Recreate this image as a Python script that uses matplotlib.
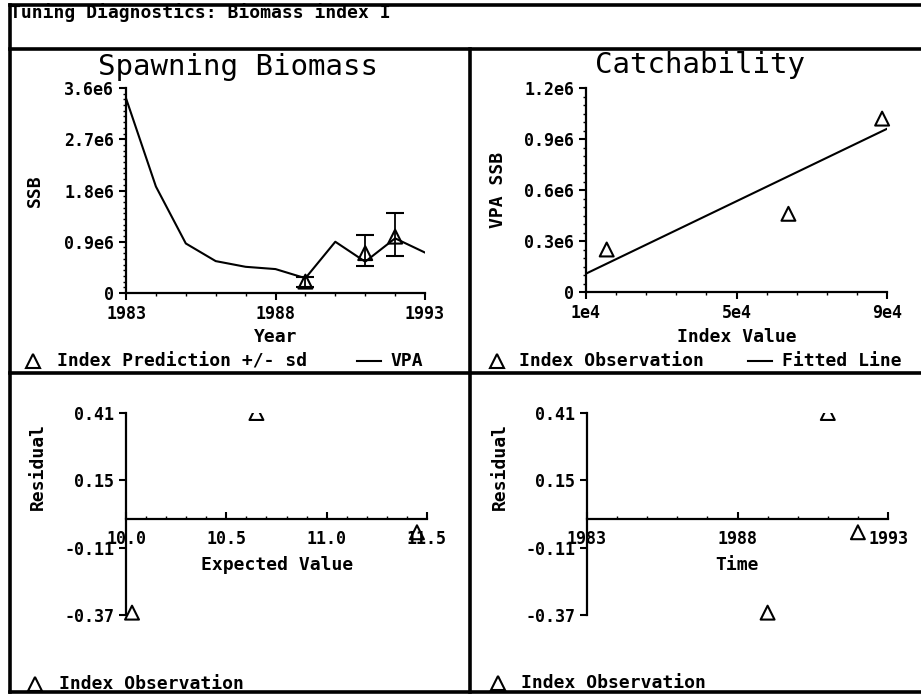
import matplotlib.pyplot as plt
import matplotlib.transforms as mtransforms
from matplotlib.lines import Line2D
from matplotlib.patches import Rectangle
from matplotlib.ticker import AutoMinorLocator

# data
years = [1983, 1984, 1985, 1986, 1987, 1988, 1989, 1990, 1991, 1992, 1993]
ssb_vpa = [3.42e6, 1.87e6, 0.87e6, 0.56e6, 0.46e6, 0.42e6, 0.26e6, 0.90e6, 0.55e6, 0.96e6, 0.71e6]

index_years = [1989, 1991, 1992]
index_pred = [0.20e6, 0.70e6, 0.99e6]
index_lo = [0.10e6, 0.47e6, 0.65e6]
index_hi = [0.28e6, 1.02e6, 1.41e6]

index_obs = [1.55e4, 6.38e4, 8.87e4]
vpa_ssb_obs = [0.25e6, 0.46e6, 1.02e6]
fit_x = [1e4, 9e4]
fit_y = [0.108e6, 0.96e6]

expected = [10.03, 10.65, 11.45]
resid_years = [1989, 1991, 1992]
resid = [-0.36, 0.41, -0.05]

ssb_ticks = [0, 0.9e6, 1.8e6, 2.7e6, 3.6e6]
ssb_labels = ['0', '0.9e6', '1.8e6', '2.7e6', '3.6e6']
q_ticks = [0, 0.3e6, 0.6e6, 0.9e6, 1.2e6]
q_labels = ['0', '0.3e6', '0.6e6', '0.9e6', '1.2e6']
idx_ticks = [1e4, 5e4, 9e4]
idx_labels = ['1e4', '5e4', '9e4']
res_ticks = [-0.37, -0.11, 0.15, 0.41]
res_labels = ['-0.37', '-0.11', '0.15', '0.41']
exp_ticks = [10.0, 10.5, 11.0, 11.5]
exp_labels = ['10.0', '10.5', '11.0', '11.5']
yr_ticks = [1983, 1988, 1993]

plt.rcParams['font.family'] = 'DejaVu Sans Mono'
plt.rcParams['font.weight'] = 'bold'

W, H = 921, 695
fig = plt.figure(figsize=(W / 100, H / 100), dpi=100)
# pixel coordinates, origin top-left
P = mtransforms.Affine2D().scale(1 / W, -1 / H).translate(0, 1) + fig.transFigure


def box(x0, y0, x1, y1):
    return [x0 / W, 1 - y1 / H, (x1 - x0) / W, (y1 - y0) / H]


def style(ax):
    for s in ['top', 'right']:
        ax.spines[s].set_visible(False)
    for s in ['left', 'bottom']:
        ax.spines[s].set_linewidth(1.6)
    ax.tick_params(which='major', length=5, width=1.5, labelsize=12)
    ax.tick_params(which='minor', length=2.5, width=1)
    ax.set_facecolor('none')


def tri(ax, x, y, clip=True):
    sc = ax.scatter(x, y, marker='^', s=100, facecolors='none',
                    edgecolors='black', linewidths=1.5, clip_on=clip, zorder=3)
    if clip:
        # cut triangles that sit on the top edge, as in the original
        clip_rect = Rectangle((-0.1, 0), 1.2, 1.0, transform=ax.transAxes)
        sc.set_clip_path(clip_rect)


def line(x0, y0, x1, y1, lw=2.6):
    fig.add_artist(Line2D([x0, x1], [y0, y1], transform=P, color='black', lw=lw))


def text(x, y, s, **kw):
    kw.setdefault('fontsize', 13)
    kw.setdefault('va', 'center')
    fig.text(x, y, s, transform=P, **kw)


def legend_tri(x, y):
    fig.add_artist(Line2D([x], [y], transform=P, marker='^', ms=10, mfc='none',
                          mec='black', mew=1.5, linestyle='none'))


# frame and panel borders
line(10, 5, 921, 5)
line(10, 5, 10, 692)
line(10, 49, 921, 49)
line(10, 373, 921, 373)
line(470, 49, 470, 692)
line(10, 692, 921, 692)
text(10, 13, 'Tuning Diagnostics: Biomass index I')

# Spawning biomass
ax1 = fig.add_axes(box(126, 88, 425, 293))
style(ax1)
ax1.plot(years, ssb_vpa, color='black', lw=1.5)
err = [[p - lo for p, lo in zip(index_pred, index_lo)],
       [hi - p for p, hi in zip(index_pred, index_hi)]]
ax1.errorbar(index_years, index_pred, yerr=err, fmt='none', ecolor='black',
             elinewidth=1.3, capsize=6.5, capthick=1.5)
tri(ax1, index_years, index_pred, clip=False)
ax1.set_xlim(1983, 1993)
ax1.set_ylim(0, 3.6e6)
ax1.set_xticks(yr_ticks)
ax1.set_yticks(ssb_ticks)
ax1.set_yticklabels(ssb_labels)
ax1.xaxis.set_minor_locator(AutoMinorLocator(5))
ax1.yaxis.set_minor_locator(AutoMinorLocator(9))
text(238, 75, 'Spawning Biomass', fontsize=21, weight='normal', ha='center', va='baseline')
text(276, 337, 'Year', ha='center')
text(35, 191, 'SSB', ha='center', rotation=90)
legend_tri(33, 361)
text(57, 361, 'Index Prediction +/- sd')
line(357, 361, 381, 361, lw=1.5)
text(390, 361, 'VPA')

# Catchability
ax2 = fig.add_axes(box(586, 88, 887, 292))
style(ax2)
ax2.plot(fit_x, fit_y, color='black', lw=1.5)
tri(ax2, index_obs, vpa_ssb_obs, clip=False)
ax2.set_xlim(1e4, 9e4)
ax2.set_ylim(0, 1.2e6)
ax2.set_xticks(idx_ticks)
ax2.set_xticklabels(idx_labels)
ax2.set_yticks(q_ticks)
ax2.set_yticklabels(q_labels)
ax2.xaxis.set_minor_locator(AutoMinorLocator(5))
ax2.yaxis.set_minor_locator(AutoMinorLocator(6))
text(700, 73, 'Catchability', fontsize=21, weight='normal', ha='center', va='baseline')
text(737, 337, 'Index Value', ha='center')
text(498, 190, 'VPA SSB', ha='center', rotation=90)
legend_tri(497, 361)
text(519, 361, 'Index Observation')
line(748, 361, 772, 361, lw=1.5)
text(782, 361, 'Fitted Line')


def resid_axes(x0, x1):
    ax = fig.add_axes(box(x0, 413, x1, 623))
    style(ax)
    ax.spines['bottom'].set_position(('data', 0))
    ax.spines['left'].set_bounds(-0.37, 0.41)
    ax.set_ylim(-0.40, 0.41)
    ax.set_yticks(res_ticks)
    ax.set_yticklabels(res_labels)
    ax.tick_params(axis='x', which='both', direction='in', pad=8)
    ax.xaxis.set_minor_locator(AutoMinorLocator(5))
    return ax


# Residuals vs expected
ax3 = resid_axes(126, 427)
tri(ax3, expected, resid)
ax3.set_xlim(10.0, 11.5)
ax3.set_xticks(exp_ticks)
ax3.set_xticklabels(exp_labels)
text(277, 565, 'Expected Value', ha='center')
text(38, 467, 'Residual', ha='center', rotation=90)
legend_tri(35, 684)
text(59, 684, 'Index Observation')

# Residuals vs time
ax4 = resid_axes(587, 888)
tri(ax4, resid_years, resid)
ax4.set_xlim(1983, 1993)
ax4.set_xticks(yr_ticks)
text(737, 565, 'Time', ha='center')
text(500, 467, 'Residual', ha='center', rotation=90)
legend_tri(498, 683)
text(521, 683, 'Index Observation')

fig.savefig('out.png', dpi=100, facecolor='white')
